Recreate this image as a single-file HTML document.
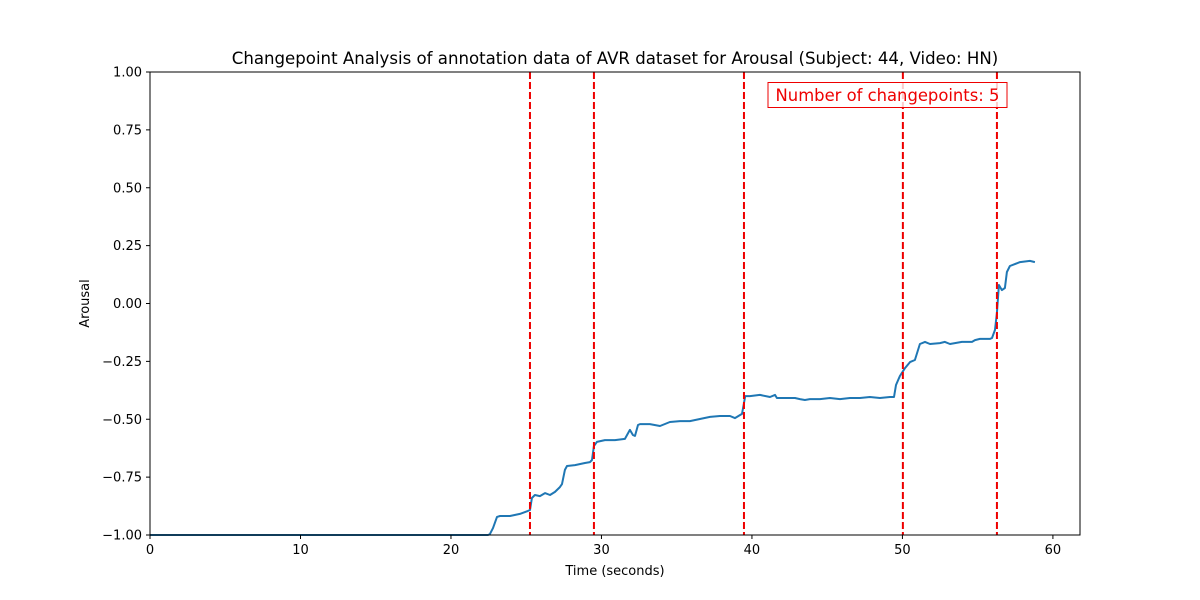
<!DOCTYPE html>
<html><head><meta charset="utf-8"><style>
html,body{margin:0;padding:0;background:#fff;}
svg{display:block;font-family:"DejaVu Sans","Liberation Sans",sans-serif;}
</style></head><body>
<svg id="chart" width="1200" height="600" viewBox="0 0 1200 600" xmlns="http://www.w3.org/2000/svg">
<rect width="1200" height="600" fill="#fff"/>
<text x="615" y="64" font-size="16.6" text-anchor="middle" fill="#000">Changepoint Analysis of annotation data of AVR dataset for Arousal (Subject: 44, Video: HN)</text>
<g id="grid"></g>
<g id="series"></g>
<g id="cps"></g>
<rect x="150" y="72" width="930" height="463" fill="none" stroke="#000" stroke-width="1"/>
<g id="xticks"></g>
<g id="yticks"></g>
<text x="615" y="575" font-size="13" text-anchor="middle">Time (seconds)</text>
<text x="89" y="303.5" font-size="13" text-anchor="middle" transform="rotate(-90 89 303.5)">Arousal</text>
<g>
<rect x="768" y="82.5" width="239" height="25" fill="#fff" fill-opacity="0.8" stroke="#e00" stroke-width="1"/>
<text x="887.5" y="101" font-size="16.4" text-anchor="middle" fill="#e00">Number of changepoints: 5</text>
</g>
</svg>
<script>
const times = [0,22.46,22.59,22.79,23.06,23.26,23.92,24.58,25.12,25.25,25.38,25.58,25.91,26.25,26.58,26.91,27.24,27.38,27.57,27.71,28.24,28.90,29.24,29.37,29.50,29.70,30.23,30.90,31.56,31.89,32.09,32.23,32.43,32.56,33.22,33.89,34.55,35.22,35.88,36.54,37.21,37.87,38.54,38.87,39.20,39.34,39.47,39.55,39.87,40.53,41.20,41.53,41.66,42.19,42.86,43.19,43.52,43.85,44.52,45.18,45.85,46.51,47.18,47.84,48.50,49.17,49.44,49.57,49.83,50.17,50.50,50.83,51.16,51.50,51.83,52.49,52.82,53.16,53.49,53.95,54.62,54.82,55.15,55.81,55.95,56.15,56.28,56.41,56.61,56.81,56.94,57.14,57.81,58.47,58.80];
const arousal = [-1.0,-1.0,-0.996,-0.970,-0.922,-0.918,-0.918,-0.909,-0.896,-0.892,-0.840,-0.827,-0.832,-0.819,-0.827,-0.814,-0.793,-0.780,-0.719,-0.702,-0.698,-0.689,-0.685,-0.676,-0.616,-0.598,-0.590,-0.590,-0.585,-0.546,-0.568,-0.572,-0.525,-0.521,-0.521,-0.529,-0.512,-0.508,-0.508,-0.499,-0.490,-0.486,-0.486,-0.495,-0.482,-0.477,-0.430,-0.400,-0.400,-0.395,-0.404,-0.395,-0.408,-0.408,-0.408,-0.413,-0.417,-0.413,-0.413,-0.408,-0.413,-0.408,-0.408,-0.404,-0.408,-0.404,-0.404,-0.352,-0.313,-0.279,-0.253,-0.244,-0.175,-0.166,-0.175,-0.171,-0.166,-0.175,-0.171,-0.166,-0.166,-0.158,-0.153,-0.153,-0.149,-0.114,-0.041,0.080,0.058,0.067,0.136,0.162,0.179,0.184,0.179];
const changepoints = [25.25,29.50,39.47,50.03,56.28];
const xTickLabels = [0,10,20,30,40,50,60];
const yTickLabels = ["-1.00","-0.75","-0.50","-0.25","0.00","0.25","0.50","0.75","1.00"];
const NS="http://www.w3.org/2000/svg";
const X0=150,X1=1080,Y0=72,Y1=535,xmin=-0.0,xmax=61.8,ymin=-1,ymax=1;
function sx(t){return X0+(t-xmin)/(xmax-xmin)*(X1-X0);}
function sy(v){return Y1-(v-ymin)/(ymax-ymin)*(Y1-Y0);}
function mk(tag,attrs,parent){const e=document.createElementNS(NS,tag);for(const k in attrs)e.setAttribute(k,attrs[k]);parent.appendChild(e);return e;}
const ser=document.getElementById('series');
let d=times.map((t,i)=>(i?'L':'M')+sx(t).toFixed(1)+' '+sy(arousal[i]).toFixed(1)).join(' ');
const line=mk('path',{d:d,fill:'none',stroke:'#1f77b4','stroke-width':2,'stroke-linejoin':'round'},ser);


const cpg=document.getElementById('cps');
changepoints.forEach(c=>{
  const l=mk('line',{x1:sx(c),x2:sx(c),y1:Y0,y2:Y1,stroke:'#e00','stroke-width':2,'stroke-dasharray':'7,3'},cpg);
  
  
});
const xg=document.getElementById('xticks');
xTickLabels.forEach(v=>{
  const x=sx(v);
  mk('line',{x1:x,x2:x,y1:Y1,y2:Y1+4,stroke:'#000'},xg);
  const t=mk('text',{x:x,y:Y1+19,'font-size':13,'text-anchor':'middle'},xg);
  t.textContent=v;
  
  
});
const yg=document.getElementById('yticks');
yTickLabels.forEach(s=>{
  const y=sy(parseFloat(s));
  mk('line',{x1:X0-4,x2:X0,y1:y,y2:y,stroke:'#000'},yg);
  const t=mk('text',{x:X0-8,y:y+4.5,'font-size':13,'text-anchor':'end'},yg);
  t.textContent=s.replace('-','\u2212');
  
  
});
</script>
</body></html>
